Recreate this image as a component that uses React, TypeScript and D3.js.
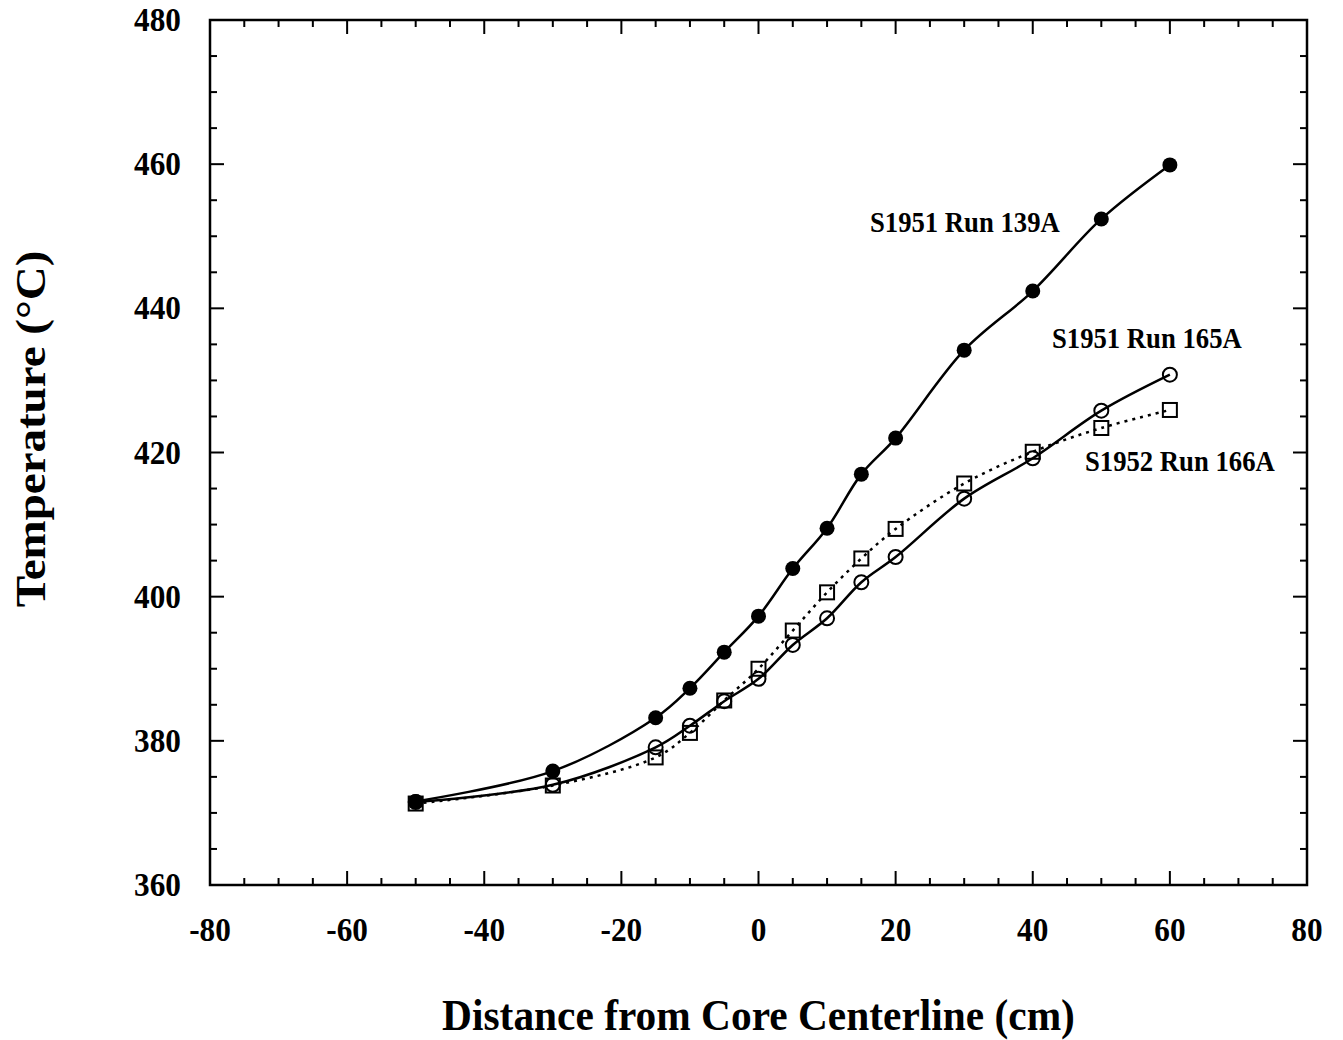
import React from "react";
import * as d3 from "d3";

const xs = [-50, -30, -15, -10, -5, 0, 5, 10, 15, 20, 30, 40, 50, 60];
const run139A = [371.6, 375.8, 383.2, 387.3, 392.3, 397.3, 403.9, 409.5, 417.0, 422.0, 434.2, 442.4, 452.4, 459.9];
const run165A = [371.5, 373.9, 379.1, 382.1, 385.5, 388.6, 393.3, 397.0, 402.0, 405.5, 413.6, 419.2, 425.8, 430.8];
const run166A = [371.3, 373.8, 377.7, 381.1, 385.6, 390.0, 395.3, 400.6, 405.3, 409.4, 415.7, 420.1, 423.4, 425.9];
const xTicks = [-80, -60, -40, -20, 0, 20, 40, 60, 80];
const yTicks = [360, 380, 400, 420, 440, 460, 480];
const seriesLabels = ["S1951 Run 139A", "S1951 Run 165A", "S1952 Run 166A"];

const FONT = "'Liberation Serif', 'Times New Roman', serif";
const SX = 0.92;

function T({ x, y, size, anchor, children }: { x: number; y: number; size: number; anchor?: string; children: React.ReactNode }) {
  return (
    <text
      transform={`translate(${x},${y}) scale(${SX},1)`}
      x={0}
      y={0}
      textAnchor={anchor || "start"}
      fontFamily={FONT}
      fontWeight="bold"
      fontSize={size}
      fill="#000"
    >
      {children}
    </text>
  );
}

export default function App() {
  const W = 1343, H = 1040;
  const left = 210, right = 1307, top = 20, bottom = 885;
  const x = d3.scaleLinear().domain([-80, 80]).range([left, right]);
  const y = d3.scaleLinear().domain([360, 480]).range([bottom, top]);
  const line = d3.line<number>().x((_, i) => x(xs[i])).y((d) => y(d)).curve(d3.curveCatmullRom.alpha(0.5));

  const xMinor = d3.range(-80, 80.01, 5);
  const yMinor = d3.range(360, 480.01, 5);
  const isMajor = (v: number) => v % 20 === 0;

  return (
    <svg width={W} height={H} style={{ position: "absolute", left: 0, top: 0, background: "#fff" }}>
      <rect x={0} y={0} width={W} height={H} fill="#fff" />
      <g stroke="#000" strokeWidth={2}>
        {xMinor.map((v) => {
          const L = isMajor(v) ? 14 : 7;
          return (
            <g key={"xt" + v}>
              <line x1={x(v)} x2={x(v)} y1={bottom} y2={bottom - L} />
              <line x1={x(v)} x2={x(v)} y1={top} y2={top + L} />
            </g>
          );
        })}
        {yMinor.map((v) => {
          const L = isMajor(v) ? 14 : 7;
          return (
            <g key={"yt" + v}>
              <line x1={left} x2={left + L} y1={y(v)} y2={y(v)} />
              <line x1={right} x2={right - L} y1={y(v)} y2={y(v)} />
            </g>
          );
        })}
      </g>
      <rect x={left} y={top} width={right - left} height={bottom - top} fill="none" stroke="#000" strokeWidth={2.5} />
      {xTicks.map((v) => (
        <T key={"xl" + v} x={x(v)} y={941} size={34} anchor="middle">{v}</T>
      ))}
      {yTicks.map((v) => (
        <T key={"yl" + v} x={181} y={y(v) + 11} size={34} anchor="end">{v}</T>
      ))}
      <T x={x(0)} y={1030} size={45} anchor="middle">Distance from Core Centerline (cm)</T>
      <text
        transform={`translate(45,429) scale(${SX},1) rotate(-90)`}
        textAnchor="middle"
        fontFamily={FONT}
        fontWeight="bold"
        fontSize={47}
      >
        Temperature (°C)
      </text>
      <path d={line(run166A) || ""} fill="none" stroke="#000" strokeWidth={2.5} strokeDasharray="3,5" />
      <path d={line(run165A) || ""} fill="none" stroke="#000" strokeWidth={2.5} />
      <path d={line(run139A) || ""} fill="none" stroke="#000" strokeWidth={2.5} />
      {run166A.map((v, i) => (
        <rect key={"s" + i} x={x(xs[i]) - 7} y={y(v) - 7} width={14} height={14} fill="none" stroke="#000" strokeWidth={2} />
      ))}
      {run165A.map((v, i) => (
        <circle key={"o" + i} cx={x(xs[i])} cy={y(v)} r={7} fill="none" stroke="#000" strokeWidth={2} />
      ))}
      {run139A.map((v, i) => (
        <circle key={"f" + i} cx={x(xs[i])} cy={y(v)} r={7.5} fill="#000" stroke="none" />
      ))}
      <T x={870} y={232} size={29}>{seriesLabels[0]}</T>
      <T x={1052} y={348} size={29}>{seriesLabels[1]}</T>
      <T x={1085} y={471} size={29}>{seriesLabels[2]}</T>
    </svg>
  );
}
